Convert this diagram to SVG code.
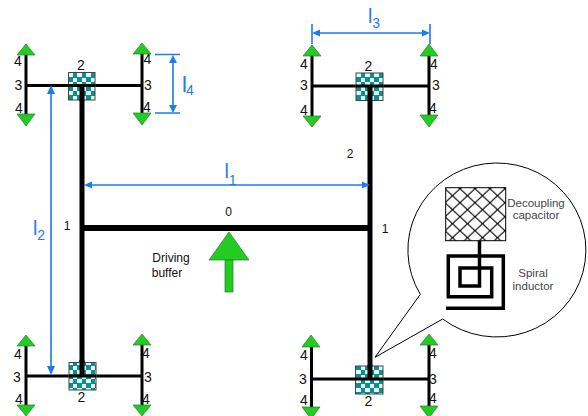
<svg xmlns="http://www.w3.org/2000/svg" width="588" height="416" viewBox="0 0 588 416">
<style>
text{font-family:"Liberation Sans",Arial,sans-serif}
.n{font-size:14px;fill:#111;text-anchor:middle}
.l{font-size:12px;fill:#111;text-anchor:middle}
.c{font-size:11.500px;fill:#444;text-anchor:middle}
.b{font-size:19.500px;fill:#1a7cf0}
.s{font-size:14px}
.w{stroke:#000;stroke-width:3;fill:none}
.t{stroke:#000;stroke-width:5;fill:none}
.d{stroke:#1a7cf0;stroke-width:1.600;fill:none}
.a{fill:#1a7cf0;stroke:none}
.g{fill:#22cc22;stroke:#2a7a2a;stroke-width:.7}
.sq{fill:url(#chk);stroke:#444;stroke-width:1}
</style>
<defs>
<pattern id="chk" width="9" height="9" patternUnits="userSpaceOnUse" x="1" y="1">
<rect width="9" height="9" fill="#0b9090"/>
<rect x="4" y="0" width="5" height="4" fill="#e8f6f6"/>
<rect x="0" y="5" width="4" height="4" fill="#e8f6f6"/>
</pattern>
<pattern id="hatch" x="445" y="188.700" width="15" height="14" patternUnits="userSpaceOnUse">
<rect width="15" height="14" fill="#fff"/>
<path d="M0 0L15 14M15 0L0 14" stroke="#000" stroke-width="1.100"/>
</pattern>
</defs>
<g id="connectors">
<path class="w" d="M26 85.500H142M26 55V114M142 54V113"/>
<path class="w" d="M312 86H429M312 56V116M429 56V115"/>
<path class="w" d="M26 376H142M26 346V405M142 345V405"/>
<path class="w" d="M311.500 379H429M311.500 347V407M429 345V406"/>
<path class="t" d="M82 87V376M370 87V379"/>
<path class="t" style="stroke-width:6" d="M82 228H370"/>
</g>
<g id="dimensions">
<path class="d" d="M312 24V44M430 24V44M318 33H424"/>
<path class="a" d="M312 33L320 29.500V36.500ZM430 33L422 29.500V36.500Z"/>
<path class="d" d="M90 185H364"/>
<path class="a" d="M84 185L92 181.500V188.500ZM370 185L362 181.500V188.500Z"/>
<path class="d" d="M51 92V369"/>
<path class="a" d="M51 85L47 94H55ZM51 375L47 366H55Z"/>
<path class="d" d="M155 54.500H180M155 113H180M173 60V107"/>
<path class="a" d="M173 55L169 63H177ZM173 113L169 105H177Z"/>
<text class="b" x="368" y="23">l<tspan class="s" dy="5">3</tspan></text>
<text class="b" x="224.500" y="178">l<tspan class="s" dy="7">1</tspan></text>
<text class="b" x="33" y="235">l<tspan class="s" dy="5">2</tspan></text>
<text class="b" x="182" y="92" style="font-size:22px">l<tspan class="s" dy="3" dx="-1">4</tspan></text>
</g>
<g id="node-top-left">
<rect class="sq" x="68.500" y="72.500" width="26.500" height="27.500"/>
<path class="w" d="M68 85.500H95"/><path class="t" d="M82 86V101"/>
<path class="g" d="M26 44L17 55H35ZM26 126L17 114H35ZM142 43L133 54H151ZM142 125L133 113H151Z"/>
<text class="n" x="81" y="70">2</text><text class="n" x="18.500" y="90">3</text><text class="n" x="148" y="90">3</text>
<text class="n" x="18" y="66">4</text><text class="n" x="19" y="113">4</text><text class="n" x="147.500" y="64">4</text><text class="n" x="147" y="112">4</text>
</g>
<g id="node-top-right">
<rect class="sq" x="356" y="73" width="27" height="27.500"/>
<path class="w" d="M356 86H383"/><path class="t" d="M370 86V101"/>
<path class="g" d="M312 45L303 56H321ZM312 127L303 116H321ZM429 44L420 56H438ZM429 127L420 115H438Z"/>
<text class="n" x="368.500" y="71">2</text><text class="n" x="304" y="90">3</text><text class="n" x="436" y="90">3</text>
<text class="n" x="304" y="69">4</text><text class="n" x="304" y="115">4</text><text class="n" x="434" y="69">4</text><text class="n" x="433" y="113">4</text>
</g>
<g id="node-bottom-left">
<rect class="sq" x="69" y="362.500" width="27" height="27.500"/>
<path class="w" d="M69 376H96"/><path class="t" d="M82 360V377"/>
<path class="g" d="M26 335L17 346H35ZM26 416L17 405H35ZM142 334L133 345H151ZM142 416L133 405H151Z"/>
<text class="n" x="81.500" y="402">2</text><text class="n" x="17" y="382">3</text><text class="n" x="148" y="382">3</text>
<text class="n" x="18" y="359">4</text><text class="n" x="19" y="404">4</text><text class="n" x="146" y="358">4</text><text class="n" x="146" y="404">4</text>
</g>
<g id="node-bottom-right">
<rect class="sq" x="355.500" y="366" width="27.500" height="28"/>
<path class="w" d="M355 379H383"/><path class="t" d="M370 365V380"/>
<path class="g" d="M311 335L302 347H320ZM311 419L302 407H320ZM429 334L420 345H438ZM429 418L420 406H438Z"/>
<text class="n" x="368.500" y="406">2</text><text class="n" x="303" y="384">3</text><text class="n" x="433" y="384">3</text>
<text class="n" x="304" y="360">4</text><text class="n" x="304" y="405">4</text><text class="n" x="433" y="358">4</text><text class="n" x="433" y="403">4</text>
</g>
<g id="node-driver">
<path class="g" d="M229 232L209 260H249Z"/>
<rect x="225" y="260" width="8" height="32" fill="#22cc22" stroke="#2a7a2a" stroke-width=".7"/>
<text class="l" x="228.500" y="216">0</text>
<text class="l" x="67" y="230">1</text><text class="l" x="385" y="233">1</text><text class="l" x="350" y="158">2</text>
<text class="l" x="171" y="262">Driving</text><text class="l" x="167" y="277">buffer</text>
</g>
<g id="node-callout">
<path d="M420.300 294.300A89 87 0 1 1 442.700 319L375 357.300Z" fill="#fff" stroke="#000" stroke-width="1"/>
<rect x="445.700" y="187.700" width="60" height="53" fill="url(#hatch)" stroke="#000" stroke-width="1"/>
<path d="M479.500 241V286H460V268H491.700V296.700H448.300V256H503.300V308.300H446" fill="none" stroke="#000" stroke-width="3.500"/>
<text class="c" x="536" y="207">Decoupling</text><text class="c" x="536" y="219">capacitor</text>
<text class="c" x="533" y="277">Spiral</text><text class="c" x="533" y="290">inductor</text>
</g>
</svg>
